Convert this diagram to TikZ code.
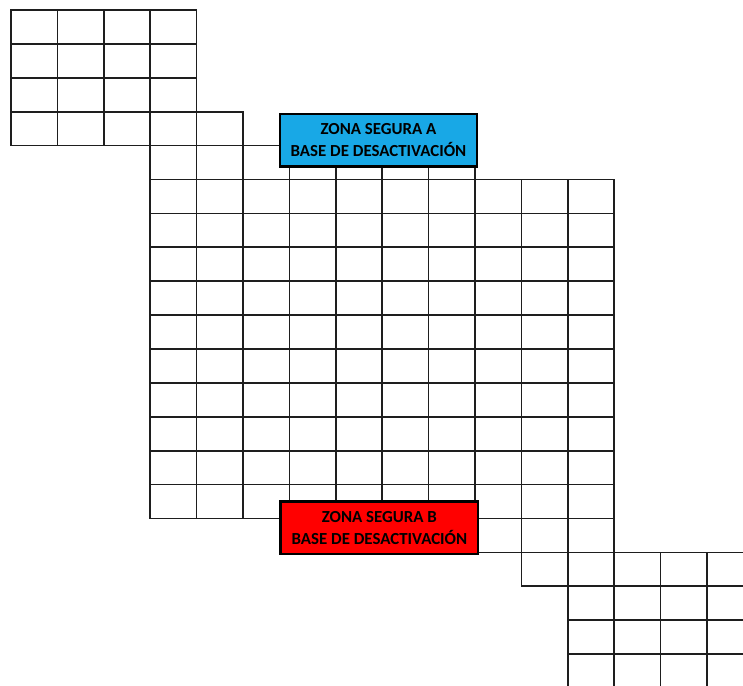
\documentclass[tikz,border=0pt]{standalone}
\usepackage{fontspec}
\setmainfont{Carlito}
\usepackage{tikz}
\usetikzlibrary{positioning}
\definecolor{zonablue}{HTML}{18A8E6}
\definecolor{zonared}{HTML}{FF0000}
\definecolor{gridgray}{HTML}{1E1E1E}
\tikzset{
  cell/.style={draw=gridgray,line width=1pt},
  zona/.style={rectangle,draw=black,line width=1.4pt,minimum width=3.95cm,minimum height=1.05cm,align=center,inner sep=0pt,font=\fontsize{9.6}{12.6}\selectfont\bfseries}
}

\begin{document}
\begin{tikzpicture}[x=0.928cm,y=-0.678cm]
  \useasboundingbox (-0.237,-0.295) rectangle (15.776,19.941);
  \clip (-0.237,-0.295) rectangle (15.776,19.941);
  % upper left block
  \foreach \r in {0,1,2} \foreach \c in {0,...,3} \draw[cell] (\c,\r) rectangle ++(1,1);
  \foreach \c in {0,...,4} \draw[cell] (\c,3) rectangle ++(1,1);
  \foreach \c in {3,...,9} \draw[cell] (\c,4) rectangle ++(1,1);
  % main field
  \foreach \r in {5,...,14} \foreach \c in {3,...,12} \draw[cell] (\c,\r) rectangle ++(1,1);
  % lower right block
  \foreach \c in {6,...,12} \draw[cell] (\c,15) rectangle ++(1,1);
  \foreach \c in {11,...,15} \draw[cell] (\c,16) rectangle ++(1,1);
  \foreach \r in {17,18,19} \foreach \c in {12,...,15} \draw[cell] (\c,\r) rectangle ++(1,1);
  % safe zones
  \node[zona,fill=zonablue] (zonaA) at (7.92,3.84) {ZONA SEGURA A\\BASE DE DESACTIVACIÓN};
  \node[zona,fill=zonared] (zonaB) at (7.94,15.27) {ZONA SEGURA B\\BASE DE DESACTIVACIÓN};
\end{tikzpicture}
\end{document}
